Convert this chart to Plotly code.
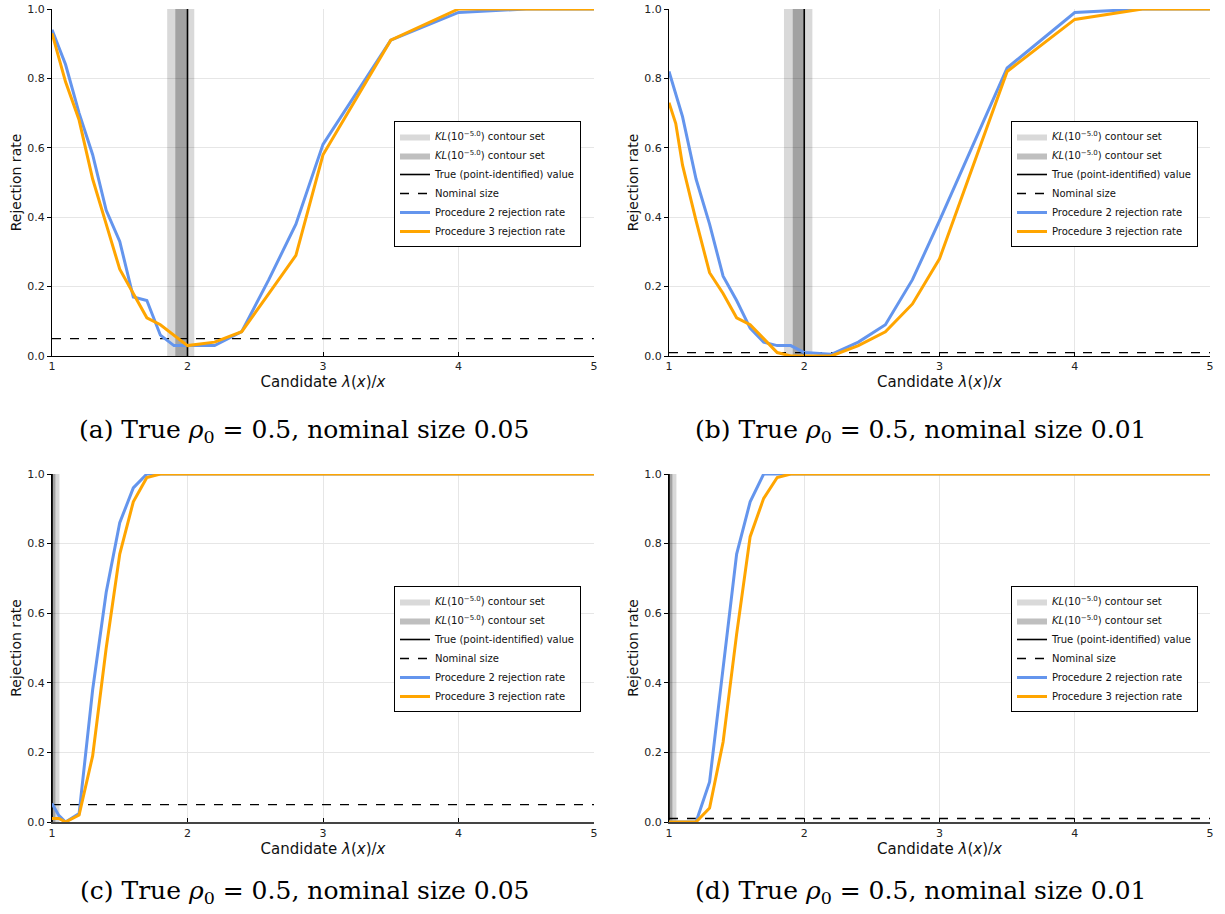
import plotly.graph_objects as go

W, H = 1225, 914

# ---------------- data ----------------
x_grid = [1.0, 1.05, 1.1, 1.2, 1.3, 1.4, 1.5, 1.6, 1.7, 1.8, 1.9, 2.0,
          2.2, 2.4, 2.6, 2.8, 3.0, 3.5, 4.0, 4.5, 5.0]

proc2_a = [0.94, 0.89, 0.84, 0.70, 0.58, 0.42, 0.33, 0.17, 0.16, 0.06, 0.03, 0.03,
           0.03, 0.07, 0.22, 0.38, 0.61, 0.91, 0.99, 1.0, 1.0]
proc3_a = [0.93, 0.86, 0.79, 0.68, 0.51, 0.38, 0.25, 0.18, 0.11, 0.09, 0.06, 0.03,
           0.04, 0.07, 0.18, 0.29, 0.58, 0.91, 1.0, 1.0, 1.0]

proc2_b = [0.82, 0.757, 0.69, 0.51, 0.38, 0.23, 0.16, 0.08, 0.04, 0.03, 0.03, 0.01,
           0.005, 0.04, 0.09, 0.22, 0.39, 0.83, 0.99, 1.0, 1.0]
proc3_b = [0.73, 0.67, 0.55, 0.39, 0.24, 0.18, 0.11, 0.09, 0.05, 0.01, 0.0, 0.0,
           0.0, 0.03, 0.07, 0.15, 0.28, 0.82, 0.97, 1.0, 1.0]

proc2_c = [0.053, 0.019, 0.0, 0.024, 0.38, 0.66, 0.86, 0.96, 1.0, 1.0, 1.0, 1.0,
           1.0, 1.0, 1.0, 1.0, 1.0, 1.0, 1.0, 1.0, 1.0]
proc3_c = [0.01, 0.01, 0.0, 0.02, 0.19, 0.50, 0.77, 0.92, 0.99, 1.0, 1.0, 1.0,
           1.0, 1.0, 1.0, 1.0, 1.0, 1.0, 1.0, 1.0, 1.0]

proc2_d = [0.0, 0.0, 0.0, 0.0, 0.115, 0.45, 0.77, 0.92, 1.0, 1.0, 1.0, 1.0,
           1.0, 1.0, 1.0, 1.0, 1.0, 1.0, 1.0, 1.0, 1.0]
proc3_d = [0.0, 0.0, 0.0, 0.0, 0.04, 0.23, 0.54, 0.82, 0.93, 0.99, 1.0, 1.0,
           1.0, 1.0, 1.0, 1.0, 1.0, 1.0, 1.0, 1.0, 1.0]

true_value = [2.0, 2.0, 1.0, 1.0]
nominal_size = [0.05, 0.01, 0.05, 0.01]
band_wide = [(1.85, 2.05), (1.85, 2.06), (0.95, 1.055), (0.95, 1.055)]
band_narrow = [(1.91, 2.0), (1.915, 2.0), (0.98, 1.025), (0.98, 1.025)]
captions = ["(a) True <i>ρ</i><sub>0</sub> = 0.5, nominal size 0.05",
            "(b) True <i>ρ</i><sub>0</sub> = 0.5, nominal size 0.01",
            "(c) True <i>ρ</i><sub>0</sub> = 0.5, nominal size 0.05",
            "(d) True <i>ρ</i><sub>0</sub> = 0.5, nominal size 0.01"]
x_ticks = [1, 2, 3, 4, 5]
y_ticks = [0.0, 0.2, 0.4, 0.6, 0.8, 1.0]
y_tick_text = ["0.0", "0.2", "0.4", "0.6", "0.8", "1.0"]

series = [(proc2_a, proc3_a), (proc2_b, proc3_b), (proc2_c, proc3_c), (proc2_d, proc3_d)]

# ---------------- layout geometry (pixels) ----------------
panels_px = [  # x0, x1, ytop, ybottom
    (52, 594, 9, 356),
    (669, 1210, 9, 356),
    (52, 594, 474, 822),
    (669, 1210, 474, 822),
]
legend_px = [(394, 121), (1011, 121), (394, 586), (1011, 586)]
caption_px = [(304, 431), (920, 431), (304, 892), (920, 892)]

BLUE = "#6495ED"
ORANGE = "#FFA500"
FONT = "DejaVu Sans"

fig = go.Figure()
layout = dict(width=W, height=H, margin=dict(l=0, r=0, t=0, b=0, autoexpand=False),
              plot_bgcolor="white", paper_bgcolor="white", showlegend=True,
              font=dict(family=FONT, color="#222"))
annotations = []

for i in range(4):
    xa = "x" if i == 0 else f"x{i+1}"
    ya = "y" if i == 0 else f"y{i+1}"
    lg = "legend" if i == 0 else f"legend{i+1}"
    x0p, x1p, ytp, ybp = panels_px[i]
    xdom = [x0p / W, x1p / W]
    ydom = [1 - ybp / H, 1 - ytp / H]
    p2, p3 = series[i]

    bw = band_wide[i]
    bn = band_narrow[i]
    fig.add_trace(go.Scatter(x=[bw[0], bw[1], bw[1], bw[0], bw[0]], y=[0, 0, 1, 1, 0],
                             fill="toself", fillcolor="rgba(0,0,0,0.15)", mode="lines",
                             line=dict(width=0, color="rgba(0,0,0,0)"),
                             name="<i>KL</i>(10<sup>−5.0</sup>) contour set",
                             xaxis=xa, yaxis=ya, legend=lg, hoverinfo="skip"))
    fig.add_trace(go.Scatter(x=[bn[0], bn[1], bn[1], bn[0], bn[0]], y=[0, 0, 1, 1, 0],
                             fill="toself", fillcolor="rgba(0,0,0,0.25)", mode="lines",
                             line=dict(width=0, color="rgba(0,0,0,0)"),
                             name="<i>KL</i>(10<sup>−5.0</sup>) contour set",
                             xaxis=xa, yaxis=ya, legend=lg, hoverinfo="skip"))
    tv = true_value[i]
    fig.add_trace(go.Scatter(x=[tv, tv], y=[0, 1], mode="lines",
                             line=dict(color="black", width=1.6),
                             name="True (point-identified) value",
                             xaxis=xa, yaxis=ya, legend=lg))
    ns = nominal_size[i]
    fig.add_trace(go.Scatter(x=[1, 5], y=[ns, ns], mode="lines",
                             line=dict(color="black", width=1.3, dash="dash"),
                             name="Nominal size", xaxis=xa, yaxis=ya, legend=lg))
    fig.add_trace(go.Scatter(x=x_grid, y=p2, mode="lines",
                             line=dict(color=BLUE, width=3),
                             name="Procedure 2 rejection rate",
                             xaxis=xa, yaxis=ya, legend=lg))
    fig.add_trace(go.Scatter(x=x_grid, y=p3, mode="lines",
                             line=dict(color=ORANGE, width=3),
                             name="Procedure 3 rejection rate",
                             xaxis=xa, yaxis=ya, legend=lg))

    xkey = "xaxis" if i == 0 else f"xaxis{i+1}"
    ykey = "yaxis" if i == 0 else f"yaxis{i+1}"
    layout[xkey] = dict(domain=xdom, anchor=ya, range=[1, 5], tickvals=x_ticks,
                        automargin=False,
                        showgrid=True, gridcolor="#e6e6e6", gridwidth=1,
                        zeroline=False, showline=True, linecolor="black" if i < 2 else "#444",
                        linewidth=1 if i < 2 else 2,
                        ticks="inside", ticklen=4, tickcolor="black",
                        tickfont=dict(size=11, family=FONT, color="#222"),
                        title=dict(text="Candidate <i>λ</i>(<i>x</i>)/<i>x</i>",
                                   font=dict(size=15, family=FONT, color="#111"),
                                   standoff=3))
    layout[ykey] = dict(domain=ydom, anchor=xa, range=[0, 1], tickvals=y_ticks,
                        ticktext=y_tick_text, automargin=False,
                        showgrid=True, gridcolor="#e6e6e6", gridwidth=1,
                        zeroline=False, showline=True, linecolor="black", linewidth=1,
                        ticks="outside", ticklen=4, tickcolor="black",
                        tickfont=dict(size=11, family=FONT, color="#222"),
                        title=dict(text="Rejection rate",
                                   font=dict(size=14, family=FONT, color="#111"),
                                   standoff=2))
    lx, ly = legend_px[i]
    layout[lg] = dict(x=lx / W, y=1 - ly / H, xanchor="left", yanchor="top",
                      bgcolor="white", bordercolor="black", borderwidth=1,
                      font=dict(size=10, family=FONT, color="#111"),
                      itemwidth=30, tracegroupgap=0)
    cx, cy = caption_px[i]
    annotations.append(dict(text=captions[i], x=cx / W, y=1 - cy / H, xref="paper",
                            yref="paper", showarrow=False, xanchor="center",
                            yanchor="middle",
                            font=dict(size=25, family="DejaVu Serif", color="black")))

layout["annotations"] = annotations
fig.update_layout(**layout)
fig.write_html("out.html", config={"displayModeBar": False},
               post_script="document.body.style.margin='0';document.body.style.overflow='hidden';")
